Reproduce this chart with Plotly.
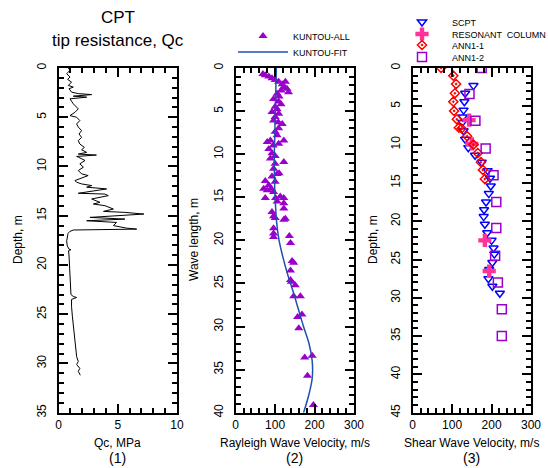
import plotly.graph_objects as go

# panel 1: CPT tip resistance
cpt_depth = [0.00, 0.24, 0.58, 0.92, 1.16, 1.43, 1.77, 1.94, 2.10, 2.45, 2.60, 2.70, 2.86, 2.96, 3.13,
             3.64, 4.15, 4.50, 4.83, 5.00, 5.34, 5.68, 6.00, 6.36, 6.70, 7.04, 7.38, 7.72, 8.06, 8.30,
             8.57, 8.74, 8.84, 8.98, 9.05, 9.39, 9.73, 10.07, 10.41, 10.75, 10.92, 11.43, 11.60, 11.77,
             11.94, 12.10, 12.28, 12.72, 12.80, 12.96, 13.30, 13.64, 13.81, 13.98, 14.32, 14.56, 14.66,
             14.83, 15.17, 15.34, 15.51, 15.68, 16.00, 16.26, 16.36, 16.45, 16.60, 16.80, 17.04, 17.55,
             18.06, 18.40, 18.45, 18.55, 19.10, 20.10, 21.10, 22.10, 23.00, 23.20, 23.30, 23.50, 24.20,
             25.20, 26.20, 27.20, 28.30, 29.30, 29.80, 30.10, 30.50, 30.80, 31.20]
cpt_qc = [0.83, 0.97, 0.69, 0.97, 0.77, 1.10, 0.83, 1.25, 0.89, 1.10, 1.67, 2.80, 1.25, 2.38, 0.97,
          1.25, 1.67, 1.39, 0.97, 1.53, 1.80, 1.53, 1.67, 1.95, 1.73, 1.95, 1.67, 1.80, 2.18, 1.95,
          2.38, 1.67, 3.20, 1.53, 1.67, 2.24, 1.80, 2.10, 1.67, 1.95, 2.50, 1.39, 1.53, 1.95,
          2.80, 2.38, 4.06, 1.67, 3.90, 4.20, 2.80, 3.50, 2.94, 3.92, 4.63, 3.80, 5.60,
          7.20, 2.66, 5.60, 2.38, 4.90, 4.63, 5.75, 6.60, 1.25, 0.95, 0.80, 0.77, 0.69,
          0.74, 0.89, 1.05, 0.85, 0.89, 0.94, 0.97, 1.05, 1.05, 1.25, 1.53, 1.10, 1.10,
          1.17, 1.25, 1.34, 1.45, 1.53, 1.67, 1.53, 1.80, 1.67, 1.84]

# panel 2: Rayleigh wave velocity vs wave length
kuntou_wl = [0.7, 0.85, 1.0, 1.2, 1.4, 1.6, 1.6, 1.9, 2.2, 2.4, 2.8, 2.6, 3.0, 3.3, 3.6, 3.9, 4.2, 4.5,
             4.8, 5.1, 5.3, 5.7, 6.1, 6.5, 6.3, 7.0, 7.4, 7.8, 8.4, 8.6, 8.4, 8.8, 9.0, 9.4, 9.9, 10.5,
             10.2, 11.1, 10.9, 11.7, 12.3, 12.6, 12.2, 13.1, 13.6, 13.2, 14.0, 14.2, 14.4, 14.0, 15.1,
             15.1, 14.9, 15.1, 15.5, 15.7, 16.3, 16.7, 17.2, 17.4, 17.6, 17.5, 18.6, 19.2, 19.6, 19.5,
             20.3, 22.4, 22.6, 23.5, 24.6, 24.8, 25.2, 26.5, 26.5, 28.6, 28.9, 30.2, 33.4, 33.6, 35.7, 39.1]
kuntou_vr = [69, 75, 84, 92, 100, 109, 126, 118, 122, 130, 134, 115, 105, 110, 96, 109, 115, 100,
             105, 92, 109, 100, 96, 118, 108, 109, 100, 105, 88, 80, 122, 109, 95, 84, 92, 88,
             100, 100, 122, 96, 105, 92, 110, 75, 84, 100, 71, 80, 96, 90, 75,
             101, 113, 122, 105, 122, 122, 92, 96, 100, 122, 126, 96, 96, 96, 136,
             139, 143, 147, 139, 139, 141, 151, 147, 164, 168, 157, 160, 194, 175, 182, 197]
fit_wl = [0, 2, 4, 6, 8, 10, 12, 14, 16, 18, 20, 22, 24, 26, 28, 30, 32, 34, 36, 38, 40]
fit_vr = [103, 102, 101, 100, 99, 98, 98, 99, 101, 104, 110, 120, 132, 146, 159, 172, 186, 194, 194, 185, 172]

# panel 3: shear wave velocity
scpt_d = [2.3, 3.3, 4.4, 5.5, 6.4, 7.1, 8.2, 9.3, 10.4, 11.4, 12.3, 13.4, 14.4, 15.4, 16.4, 17.5,
          18.5, 19.4, 20.4, 21.5, 22.5, 23.5, 24.3, 25.4, 26.3, 27.5, 28.5, 29.4]
scpt_vs = [154, 133, 131, 129, 127, 126, 129, 133, 141, 158, 175, 190, 196, 198, 193, 186,
           181, 180, 183, 189, 200, 205, 207, 202, 194, 192, 202, 221]
rc_d = [6.8, 9.9, 22.5, 26.5]
rc_vs = [143, 150, 183, 194]
ann11_d = [0.0, 1.0, 2.1, 3.3, 4.4, 5.6, 6.7, 7.8, 7.9, 8.9, 10.0, 11.1, 12.3, 13.3, 14.5]
ann11_vs = [72, 103, 110, 107, 103, 105, 112, 117, 124, 138, 154, 165, 173, 178, 183]
ann12_d = [0.0, 3.4, 6.9, 10.5, 14.0, 17.5, 20.9, 24.5, 28.0, 31.5, 35.0]
ann12_vs = [175, 144, 159, 185, 205, 212, 212, 209, 216, 226, 226]

FONT = "Liberation Sans, Arial, sans-serif"
W, H = 548, 468

fig = go.Figure()

fig.add_trace(go.Scatter(x=cpt_qc, y=cpt_depth, mode='lines', line=dict(color='black', width=1),
                         showlegend=False, xaxis='x', yaxis='y'))

fig.add_trace(go.Scatter(x=kuntou_vr, y=kuntou_wl, mode='markers', name='KUNTOU-ALL',
                         marker=dict(symbol='triangle-up', color='#9900cc', size=8),
                         xaxis='x2', yaxis='y2', legend='legend'))
fig.add_trace(go.Scatter(x=fit_vr, y=fit_wl, mode='lines', name='KUNTOU-FIT',
                         line=dict(color='#1f4fb0', width=1.5, shape='spline'),
                         xaxis='x2', yaxis='y2', legend='legend2'))

fig.add_trace(go.Scatter(x=scpt_vs, y=scpt_d, mode='markers', name='SCPT',
                         marker=dict(symbol='triangle-down-open', color='#0000ff', size=8,
                                     line=dict(width=1.5)),
                         xaxis='x3', yaxis='y3', legend='legend3'))
fig.add_trace(go.Scatter(x=rc_vs, y=rc_d, mode='markers', name='RESONANT  COLUMN',
                         marker=dict(symbol='cross', color='#ff3399', size=11),
                         xaxis='x3', yaxis='y3', legend='legend4'))
fig.add_trace(go.Scatter(x=ann11_vs, y=ann11_d, mode='markers', name='ANN1-1',
                         marker=dict(symbol='diamond-open-dot', color='#ff0000', size=7,
                                     line=dict(width=1.5)),
                         xaxis='x3', yaxis='y3', legend='legend5'))
fig.add_trace(go.Scatter(x=ann12_vs, y=ann12_d, mode='markers', name='ANN1-2',
                         marker=dict(symbol='square-open', color='#9900cc', size=9,
                                     line=dict(width=1.5)),
                         xaxis='x3', yaxis='y3', legend='legend6'))


def px_x(p):
    return p / W


def px_y(p):
    return 1 - p / H


ydom = [px_y(412.7), px_y(68)]


def xaxis(dom, rng, dtick, minor):
    return dict(domain=[px_x(dom[0]), px_x(dom[1])], range=rng, dtick=dtick,
                ticks='inside', ticklen=9, tickwidth=1.5, tickcolor='black',
                minor=dict(dtick=minor, ticks='inside', ticklen=5, tickwidth=1.5, tickcolor='black'),
                showline=True, linecolor='black', linewidth=2, mirror='allticks',
                showgrid=False, zeroline=False, tickfont=dict(size=12, color='black'))


def yaxis(rng, anchor):
    return dict(domain=ydom, range=rng, dtick=5, anchor=anchor,
                ticks='inside', ticklen=9, tickwidth=1.5, tickcolor='black',
                minor=dict(dtick=1, ticks='inside', ticklen=5, tickwidth=1.5, tickcolor='black'),
                showline=True, linecolor='black', linewidth=2, mirror='allticks',
                showgrid=False, zeroline=False, tickangle=-90, ticklabelstandoff=6,
                tickfont=dict(size=12, color='black'))


def legend_at(x, y):
    return dict(x=px_x(x), y=px_y(y), xanchor='left', yanchor='middle',
                font=dict(size=9), bgcolor='rgba(0,0,0,0)', itemwidth=50)


fig.update_layout(
    width=W, height=H,
    margin=dict(l=0, r=0, t=0, b=0, autoexpand=False),
    paper_bgcolor='white', plot_bgcolor='white',
    font=dict(family=FONT, color='black'),
    xaxis=xaxis([58.5, 177], [0, 10], 5, 1),
    xaxis2=xaxis([235.7, 354], [0, 300], 100, 20),
    xaxis3=xaxis([412.7, 531], [0, 300], 100, 20),
    yaxis=yaxis([35, 0], 'x'),
    yaxis2=yaxis([40, 0], 'x2'),
    yaxis3=yaxis([45, 0], 'x3'),
    legend=legend_at(233, 36),
    legend2=legend_at(233, 52),
    legend3=legend_at(392, 22),
    legend4=legend_at(392, 34),
    legend5=legend_at(392, 45),
    legend6=legend_at(392, 57),
)

annots = [
    ("CPT", 117.75, 18, 17, 0),
    ("tip resistance, Qc", 117.75, 40, 17, 0),
    ("Qc, MPa", 117.75, 443, 12, 0),
    ("(1)", 117.75, 458, 14, 0),
    ("Rayleigh Wave Velocity, m/s", 294.85, 443, 12, 0),
    ("(2)", 294.85, 458, 14, 0),
    ("Shear Wave Velocity, m/s", 471.85, 443, 12, 0),
    ("(3)", 471.85, 458, 14, 0),
    ("Depth, m", 18, 240, 12, -90),
    ("Wave length, m", 194, 240, 12, -90),
    ("Depth, m", 373, 240, 12, -90),
]
for text, x, y, size, ang in annots:
    fig.add_annotation(text=text, x=px_x(x), y=px_y(y), xref='paper', yref='paper',
                       showarrow=False, xanchor='center', yanchor='middle',
                       textangle=ang, font=dict(size=size, color='black'))

# page body has a default 8px margin; drop it so the figure fills the window
fig.write_html("out.html", config={'displayModeBar': False},
               post_script="document.body.style.margin='0';")
